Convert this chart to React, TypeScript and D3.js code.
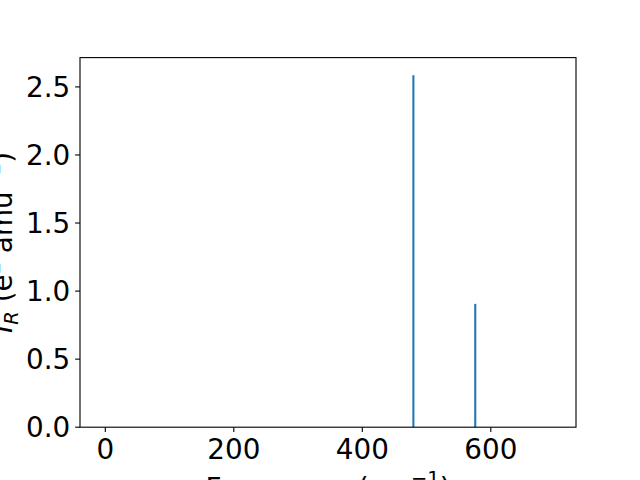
import React from 'react';
import { scaleLinear } from 'd3';

// vibrational modes (cm^-1) and their IR intensities
const frequencies = [479.5, 575.8];
const intensities = [2.586, 0.906];

const xTicks = [0, 200, 400, 600];
const yTicks = [0, 0.5, 1.0, 1.5, 2.0, 2.5];
const xDomain = [-39.4, 732.6];

const W = 640;
const H = 480;
const M = { left: 80, right: 576, top: 57.6, bottom: 427.2 };
const FONT = 'DejaVu Sans, sans-serif';
const FS = 27.8;
const BLUE = '#1f77b4';

export default function App() {
  const x = scaleLinear().domain(xDomain).range([M.left, M.right]);
  const yMax = Math.max(...intensities) * 1.05;
  const y = scaleLinear().domain([0, yMax]).range([M.bottom, M.top]);
  const midY = (M.top + M.bottom) / 2;
  const midX = (M.left + M.right) / 2;

  return (
    <svg
      width={W}
      height={H}
      style={{ position: 'absolute', left: 0, top: 0, background: '#fff' }}
      fontFamily={FONT}
    >
      <rect x={0} y={0} width={W} height={H} fill="#fff" />

      {/* stems */}
      {frequencies.map((f, i) => (
        <line
          key={f}
          x1={x(f)}
          x2={x(f)}
          y1={y(0)}
          y2={y(intensities[i])}
          stroke={BLUE}
          strokeWidth={2.08}
        />
      ))}

      {/* frame */}
      <rect
        x={M.left}
        y={M.top}
        width={M.right - M.left}
        height={M.bottom - M.top}
        fill="none"
        stroke="#000"
        strokeWidth={1.11}
      />

      {/* x ticks */}
      {xTicks.map((t) => (
        <g key={t} transform={`translate(${x(t)},${M.bottom})`}>
          <line y1={0} y2={4.86} stroke="#000" strokeWidth={1.11} />
          <text y={32.1} textAnchor="middle" fontSize={FS} fill="#000">
            {t}
          </text>
        </g>
      ))}

      {/* y ticks */}
      {yTicks.map((t) => (
        <g key={t} transform={`translate(${M.left},${y(t)})`}>
          <line x1={0} x2={-4.86} stroke="#000" strokeWidth={1.11} />
          <text x={-9.8} y={10.1} textAnchor="end" fontSize={FS} fill="#000">
            {t.toFixed(1)}
          </text>
        </g>
      ))}

      {/* x label */}
      <text x={midX} y={498} textAnchor="middle" fontSize={FS} fill="#000">
        Frequency (cm
        <tspan fontSize={FS * 0.7} dy={-FS * 0.45}>−1</tspan>
        <tspan dy={FS * 0.45}>)</tspan>
      </text>

      {/* y label */}
      <text
        transform={`translate(12,${midY}) rotate(-90)`}
        textAnchor="middle"
        fontSize={FS}
        fill="#000"
      >
        <tspan fontStyle="italic">I</tspan>
        <tspan fontStyle="italic" fontSize={FS * 0.7} dy={FS * 0.22}>R</tspan>
        <tspan dy={-FS * 0.22}> (e</tspan>
        <tspan fontSize={FS * 0.7} dy={-FS * 0.45}>2</tspan>
        <tspan dy={FS * 0.45}> amu</tspan>
        <tspan fontSize={FS * 0.7} dy={-FS * 0.45}>−1</tspan>
        <tspan dy={FS * 0.45}>)</tspan>
      </text>
    </svg>
  );
}
